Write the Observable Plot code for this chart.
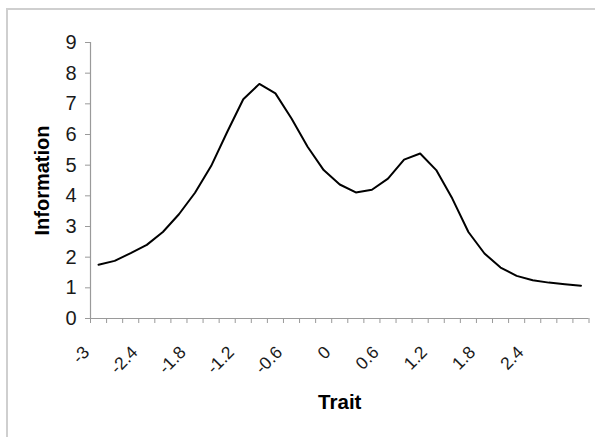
<!DOCTYPE html>
<html>
<head>
<meta charset="utf-8">
<script src="https://cdn.jsdelivr.net/npm/d3@7"></script>
<script src="https://cdn.jsdelivr.net/npm/@observablehq/plot@0.6"></script>
<style>
  html, body { margin: 0; padding: 0; background: #fff; }
  #wrap { position: relative; width: 595px; height: 437px; overflow: hidden; }
  #border { position: absolute; left: 6px; top: 8px; width: 620px; height: 460px;
            border-left: 2px solid #cfcfcf; border-top: 2px solid #cfcfcf; pointer-events: none; }
  #wrap svg text { font-family: Arial, 'Liberation Sans', sans-serif; }
  #wrap svg g[aria-label="y-axis tick label"] { font-size: 20px; }
</style>
</head>
<body>
<div id="wrap"><div id="border"></div></div>
<script>
const traits = [-3.0, -2.8, -2.6, -2.4, -2.2, -2.0, -1.8, -1.6, -1.4, -1.2, -1.0, -0.8, -0.6, -0.4, -0.2,
                0.0, 0.2, 0.4, 0.6, 0.8, 1.0, 1.2, 1.4, 1.6, 1.8, 2.0, 2.2, 2.4, 2.6, 2.8, 3.0];
const information = [1.75, 1.88, 2.13, 2.40, 2.82, 3.40, 4.10, 4.97, 6.08, 7.15, 7.65, 7.34, 6.52, 5.60, 4.84,
                     4.37, 4.11, 4.20, 4.56, 5.18, 5.38, 4.84, 3.91, 2.82, 2.12, 1.66, 1.39, 1.25, 1.17, 1.12, 1.07];
const xTickLabels = [-3, -2.4, -1.8, -1.2, -0.6, 0, 0.6, 1.2, 1.8, 2.4];
const yTicks = [0, 1, 2, 3, 4, 5, 6, 7, 8, 9];

const data = traits.map((t, i) => ({trait: t, info: information[i]}));
const half = 0.1;
const boundaries = traits.map(t => t - half).concat([traits[traits.length - 1] + half]);
const xMin = boundaries[0], xMax = boundaries[boundaries.length - 1];

const axisColor = "#9a9a9a";
const font = "Arial, 'Liberation Sans', sans-serif";

const chart = Plot.plot({
  width: 595,
  height: 437,
  marginLeft: 90,
  marginRight: 6.5,
  marginTop: 42,
  marginBottom: 119,
  style: {fontFamily: font, fontSize: "19px", background: "transparent", overflow: "visible"},
  x: {domain: [xMin, xMax], axis: null},
  y: {domain: [0, 9], axis: null},
  marks: [
    Plot.ruleY([0], {stroke: axisColor, strokeWidth: 1.2}),
    Plot.ruleX([xMin], {stroke: axisColor, strokeWidth: 1.2}),
    Plot.axisY({ticks: yTicks, tickSize: 5, tickPadding: 9, stroke: axisColor, fontSize: 20,
                color: "#1a1a1a", tickFormat: d => String(d), label: null}),
    Plot.axisX({ticks: boundaries, tickSize: 5, tickFormat: () => "", stroke: axisColor, label: null}),
    Plot.axisX({ticks: xTickLabels, tickSize: 0, tickPadding: 31, tickRotate: -45, fontSize: 17.5,
                color: "#1a1a1a", tickFormat: d => String(d), label: null, dx: -12}),
    Plot.line(data, {x: "trait", y: "info", stroke: "#000", strokeWidth: 2}),
    Plot.text(["Information"], {frameAnchor: "left", textAnchor: "middle", dx: -48, rotate: -90, fontSize: 20,
                fontWeight: "bold", fill: "#000", text: d => d}),
    Plot.text(["Trait"], {frameAnchor: "bottom", textAnchor: "middle", dy: 90, dx: 0, fontSize: 20.5, fontWeight: "bold",
                fill: "#000", text: d => d})
  ]
});
document.getElementById("wrap").prepend(chart);
</script>
</body>
</html>
